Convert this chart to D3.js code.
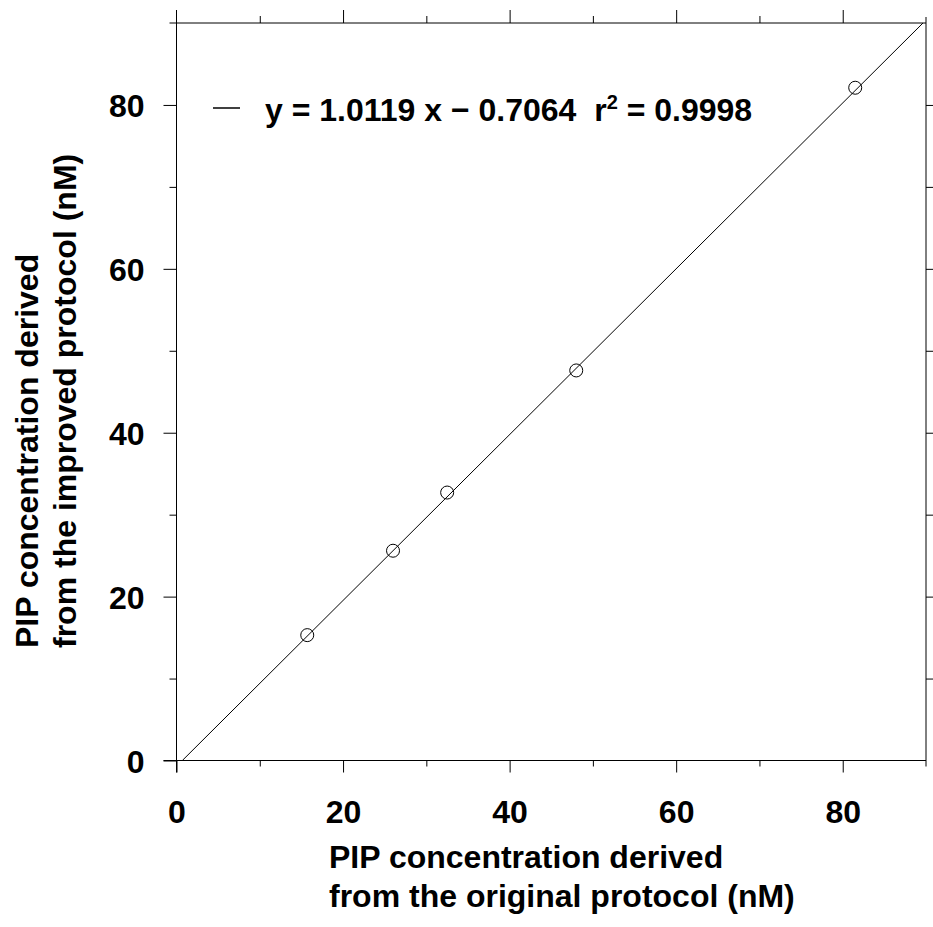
<!DOCTYPE html>
<html>
<head>
<meta charset="utf-8">
<script src="https://cdn.jsdelivr.net/npm/d3@7"></script>
<style>
  body { margin: 0; background: #fff; }
  svg { display: block; font-family: "Liberation Sans", Arial, sans-serif; font-weight: bold; }
</style>
</head>
<body>
<div id="chart"></div>
<script>
// values
let originalConc = [15.7, 26.0, 32.5, 48.0, 81.5];
let improvedConc = [15.3, 25.6, 32.7, 47.6, 82.1];

let slope = 1.0119,
    intercept = -0.7064;

let majorTicks = [0, 20, 40, 60, 80];
let minorTicks = [10, 30, 50, 70];

let fitLabel = "y = 1.0119 x \u2212 0.7064  r";
let xTitle = ["PIP concentration derived", "from the original protocol (nM)"];
let yTitle = ["PIP concentration derived", "from the improved protocol (nM)"];

var W = 933, H = 927;

var svg = d3.select("#chart")
    .append("svg")
    .attr("width", W)
    .attr("height", H);

var x = d3.scaleLinear().domain([0, 90]).range([176.5, 926]);
var y = d3.scaleLinear().domain([0, 90]).range([760.5, 23]);

var pLeft = x(0), pRight = x(90), pTop = y(90), pBottom = y(0);

// axes (ticks only, domain lines drawn by hand below)
function addAxis(axisFn, scale, vals, size, transform, withLabels) {
    var g = svg.append("g")
        .attr("transform", transform)
        .call(axisFn(scale).tickValues(vals).tickSize(size).tickSizeOuter(0)
            .tickFormat(withLabels ? d3.format("d") : ""));
    g.select(".domain").remove();
    g.selectAll(".tick line").attr("stroke", "#000");
    return g;
}

var xb = addAxis(d3.axisBottom, x, majorTicks, 12, "translate(0," + pBottom + ")", true);
xb.selectAll("text").attr("y", 62).attr("dy", 0).style("font-size", "32px").attr("fill", "#000");
addAxis(d3.axisBottom, x, minorTicks, 6, "translate(0," + pBottom + ")", false);

var yl = addAxis(d3.axisLeft, y, majorTicks, 13, "translate(" + pLeft + ",0)", true);
yl.selectAll("text").attr("x", -32).attr("dy", "0.36em").style("font-size", "32px").attr("fill", "#000");
addAxis(d3.axisLeft, y, minorTicks, 7, "translate(" + pLeft + ",0)", false);

addAxis(d3.axisTop, x, majorTicks.slice(1), 13, "translate(0," + pTop + ")", false);
addAxis(d3.axisTop, x, minorTicks, 7, "translate(0," + pTop + ")", false);

addAxis(d3.axisRight, y, majorTicks.slice(1).concat(minorTicks), 8, "translate(" + pRight + ",0)", false);

// frame lines, stretched a little past the corners like the original
var frame = [
    [[pLeft, pTop - 13], [pLeft, pBottom + 12]],
    [[pLeft - 13, pBottom], [pRight, pBottom]],
    [[pLeft - 7, pTop], [pRight, pTop]],
    [[pRight, pTop - 6], [pRight, pBottom + 6]]
];
svg.selectAll(".frame")
    .data(frame)
    .enter().append("line")
    .attr("class", "frame")
    .attr("x1", d => d[0][0]).attr("y1", d => d[0][1])
    .attr("x2", d => d[1][0]).attr("y2", d => d[1][1])
    .attr("stroke", "#000")
    .attr("stroke-width", 1);

// regression line, clipped to the plot box
var x0 = -intercept / slope,
    x1 = (90 - intercept) / slope;
svg.append("line")
    .attr("x1", x(x0)).attr("y1", y(slope * x0 + intercept))
    .attr("x2", x(x1)).attr("y2", y(slope * x1 + intercept))
    .attr("stroke", "#000")
    .attr("stroke-width", 1);

// points
svg.selectAll(".pt")
    .data(originalConc)
    .enter().append("circle")
    .attr("class", "pt")
    .attr("cx", d => x(d))
    .attr("cy", (d, i) => y(improvedConc[i]))
    .attr("r", 6.5)
    .attr("fill", "none")
    .attr("stroke", "#000")
    .attr("stroke-width", 1);

// legend
svg.append("line")
    .attr("x1", 213).attr("x2", 240)
    .attr("y1", 108).attr("y2", 108)
    .attr("stroke", "#000")
    .attr("stroke-width", 1.5);

var leg = svg.append("text")
    .attr("x", 265)
    .attr("y", 121)
    .style("font-size", "32px")
    .style("white-space", "pre")
    .attr("fill", "#000");
leg.append("tspan").text(fitLabel);
leg.append("tspan").attr("dy", -12).style("font-size", "20px").text("2");
leg.append("tspan").attr("dy", 12).text(" = 0.9998");

// axis titles
svg.append("text")
    .attr("x", 329)
    .attr("y", 868)
    .style("font-size", "32px")
    .selectAll("tspan")
    .data(xTitle)
    .enter().append("tspan")
    .attr("x", 329)
    .attr("dy", (d, i) => i === 0 ? 0 : 39)
    .text(d => d);

svg.append("text")
    .attr("transform", "translate(38,648) rotate(-90)")
    .style("font-size", "32px")
    .selectAll("tspan")
    .data(yTitle)
    .enter().append("tspan")
    .attr("x", 0)
    .attr("dy", (d, i) => i === 0 ? 0 : 38)
    .text(d => d);
</script>
</body>
</html>
